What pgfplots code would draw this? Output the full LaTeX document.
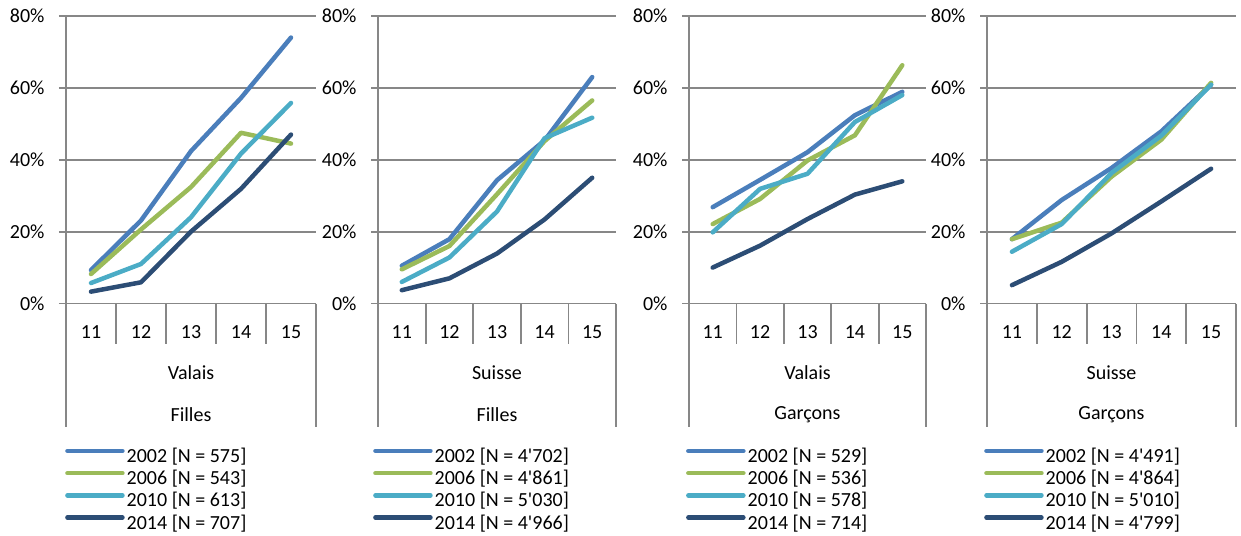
\documentclass[border=0pt]{standalone}
\usepackage{fontspec}
\setmainfont{Carlito}[Ligatures=TeXOff]
\usepackage{pgfplots}
\pgfplotsset{compat=1.18}
\definecolor{c02}{HTML}{4A7EBB}
\definecolor{c06}{HTML}{9BBB59}
\definecolor{c10}{HTML}{4BACC6}
\definecolor{c14}{HTML}{2C4D75}
\definecolor{gridc}{HTML}{878787}
\pgfplotsset{
  panel/.style={
    scale only axis, width=#1, height=287.5bp,
    xmin=10.5, xmax=15.5, ymin=0, ymax=80,
    clip=false,
    font=\fontsize{20bp}{24bp}\selectfont,
    axis lines=left,
    axis line style={-, draw=gridc, line width=1.8bp},
    ytick={0,20,40,60,80},
    yticklabels={0\%,20\%,40\%,60\%,80\%},
    ymajorgrids,
    grid style={draw=gridc, line width=1.8bp},
    ytick style={draw=gridc, line width=1.8bp},
    xtick style={draw=none},
    major tick length=7bp, tick align=outside,
    yticklabel style={xshift=-11bp, text=black},
    xtick={11,12,13,14,15},
    xticklabels={11,12,13,14,15},
    xticklabel style={anchor=center, yshift=-21.5bp, text=black},
    every axis plot/.append style={line width=4.5bp, line cap=round, line join=round, mark=none},
    legend image code/.code={\draw[##1] (0bp,6.5bp) -- (55bp,6.5bp);},
    legend cell align=left,
  },
  leg/.style={legend style={at={(#1,-0.50)}, anchor=north west, draw=none, fill=none,
    inner sep=0pt, row sep=2.2bp,
    nodes={inner xsep=2bp, inner ysep=0pt, text height=15bp, text depth=5bp, text=black},
    font=\fontsize{20bp}{24bp}\selectfont}},
}
\newcommand{\sep}[2]{\draw[gridc, line width=1.8bp] (axis cs:#1,0) -- ([yshift=-#2]axis cs:#1,0);}
\newcommand{\deco}[2]{%
  \sep{11.5}{40.5bp}\sep{12.5}{40.5bp}\sep{13.5}{40.5bp}\sep{14.5}{40.5bp}
  \sep{10.5}{123bp}\sep{15.5}{123bp}
  \node[text=black] at ([yshift=-69.2bp]axis cs:13,0) {#1};
  \node[text=black] at ([yshift=-111.5bp]axis cs:13,0) {#2};
}
\begin{document}
\begin{tikzpicture}
\useasboundingbox (0,0) rectangle (1241bp,536bp);
% Panel 1: Valais Filles
\begin{axis}[panel=250bp, at={(66bp,232.5bp)}, leg=-0.004]
\addplot[c02] coordinates {(11,9.3) (12,23.1) (13,42.4) (14,57.2) (15,74.0)};
\addplot[c06] coordinates {(11,8.2) (12,20.6) (13,32.4) (14,47.5) (15,44.5)};
\addplot[c10] coordinates {(11,5.7) (12,11.0) (13,24.0) (14,41.7) (15,55.8)};
\addplot[c14] coordinates {(11,3.3) (12,5.9) (13,20.0) (14,31.9) (15,47.0)};
\legend{2002 [N = 575],2006 [N = 543],2010 [N = 613],2014 [N = 707]}
\deco{Valais}{Filles}
\end{axis}
% Panel 2: Suisse Filles
\begin{axis}[panel=238bp, at={(378bp,232.5bp)}, leg=-0.021]
\addplot[c02] coordinates {(11,10.5) (12,17.9) (13,34.3) (14,45.4) (15,63.0)};
\addplot[c06] coordinates {(11,9.5) (12,16.0) (13,30.4) (14,45.2) (15,56.5)};
\addplot[c10] coordinates {(11,6.0) (12,12.8) (13,25.6) (14,46.0) (15,51.7)};
\addplot[c14] coordinates {(11,3.7) (12,7.0) (13,13.9) (14,23.4) (15,35.0)};
\legend{2002 [N = 4'702],2006 [N = 4'861],2010 [N = 5'030],2014 [N = 4'966]}
\deco{Suisse}{Filles}
\end{axis}
% Panel 3: Valais Garcons
\begin{axis}[panel=237bp, at={(689bp,232.5bp)}, leg=-0.013]
\addplot[c02] coordinates {(11,26.8) (12,34.4) (13,42.1) (14,52.4) (15,58.9)};
\addplot[c06] coordinates {(11,22.1) (12,29.1) (13,39.8) (14,46.8) (15,66.3)};
\addplot[c10] coordinates {(11,19.8) (12,31.9) (13,36.1) (14,50.5) (15,58.0)};
\addplot[c14] coordinates {(11,10.0) (12,16.1) (13,23.5) (14,30.3) (15,34.0)};
\legend{2002 [N = 529],2006 [N = 536],2010 [N = 578],2014 [N = 714]}
\deco{Valais}{Garçons}
\end{axis}
% Panel 4: Suisse Garcons
\begin{axis}[panel=249bp, at={(987bp,232.5bp)}, leg=-0.012]
\addplot[c02] coordinates {(11,17.9) (12,28.8) (13,37.7) (14,47.9) (15,60.9)};
\addplot[c06] coordinates {(11,17.9) (12,22.5) (13,35.3) (14,45.6) (15,61.4)};
\addplot[c10] coordinates {(11,14.4) (12,22.1) (13,36.3) (14,46.7) (15,60.9)};
\addplot[c14] coordinates {(11,5.1) (12,11.6) (13,19.5) (14,28.4) (15,37.5)};
\legend{2002 [N = 4'491],2006 [N = 4'864],2010 [N = 5'010],2014 [N = 4'799]}
\deco{Suisse}{Garçons}
\end{axis}
\end{tikzpicture}
\end{document}
